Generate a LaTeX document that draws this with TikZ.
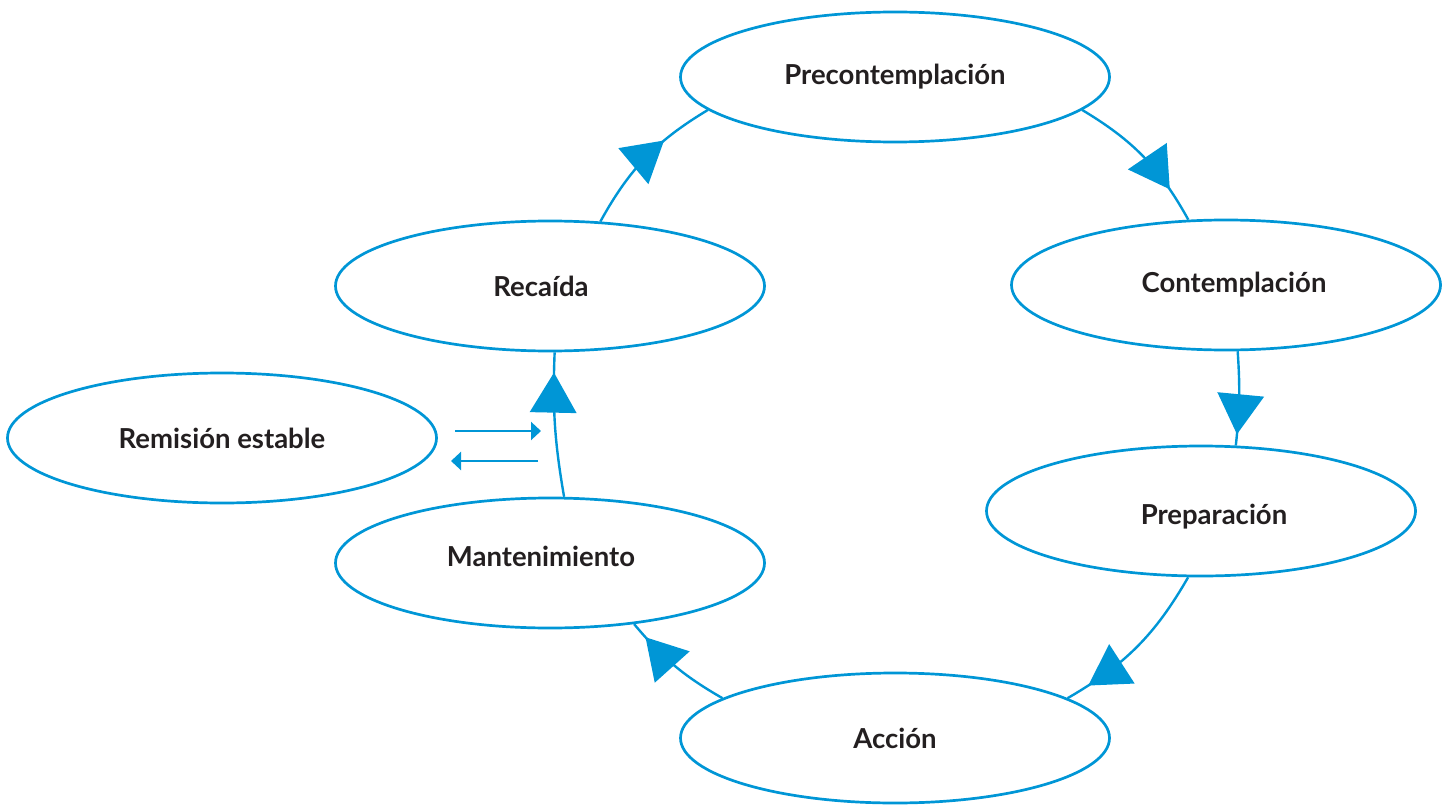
\documentclass[tikz,border=0pt]{standalone}
\usepackage{fontspec}
\setmainfont{Lato}
\usetikzlibrary{shapes.geometric,arrows.meta,decorations.markings}
\definecolor{cblue}{RGB}{0,150,214}
\definecolor{ctext}{RGB}{35,31,32}
\begin{document}
\begin{tikzpicture}[x=1pt,y=-1pt,
  stage/.style={ellipse, draw=cblue, line width=2.7pt, minimum width=429pt, minimum height=130pt, inner sep=0pt, font=\fontsize{27.5}{32}\selectfont\bfseries, text=ctext},
  link/.style={draw=cblue, line width=2.4pt},
  tri/.style={postaction={decorate}, decoration={markings, mark=at position #1 with {\fill[cblue] (0,0) -- (-40,23.5) -- (-40,-23.5) -- cycle;}}},
  small/.style={draw=cblue, line width=2.2pt, -{Triangle[length=10pt,width=18pt]}}
]
\useasboundingbox (0,0) rectangle (1450,805);
\node[stage] (pre) at (895,77) {Precontemplación};
\node[stage] (con) at (1226,285) {\kern16pt Contemplación};
\node[stage] (prep) at (1201,511) {\kern26pt\raisebox{-6pt}[\height][\depth]{Preparación}};
\node[stage] (acc) at (895,738) {Acción};
\node[stage] (man) at (550,563) {\raisebox{7pt}[\height][\depth]{Mantenimiento}\kern18pt};
\node[stage] (rec) at (550,286) {Recaída\kern18pt};
\node[stage] (rem) at (222,438) {Remisión estable};
\draw[link, tri=0.66] (rec.52) to[bend left=15] (pre.190);
\draw[link, tri=0.77] (pre.-10) to[bend left=15] (con.120);
\draw[link, tri=0.88] (con.-80) to[bend left=5] (prep.62);
\draw[link, tri=0.86] (prep.259) to[bend left=15] (acc.13);
\draw[link, tri=0.85] (acc.167) to[bend left=10] (man.-36);
\draw[link, tri=0.86] (man.78) to[bend left=6] (rec.-86);
\coordinate (a1) at (455,431);
\coordinate (a2) at (541,431);
\coordinate (b1) at (538,461);
\coordinate (b2) at (451,461);
\draw[small] (a1) -- (a2);
\draw[small] (b1) -- (b2);
\end{tikzpicture}
\end{document}
